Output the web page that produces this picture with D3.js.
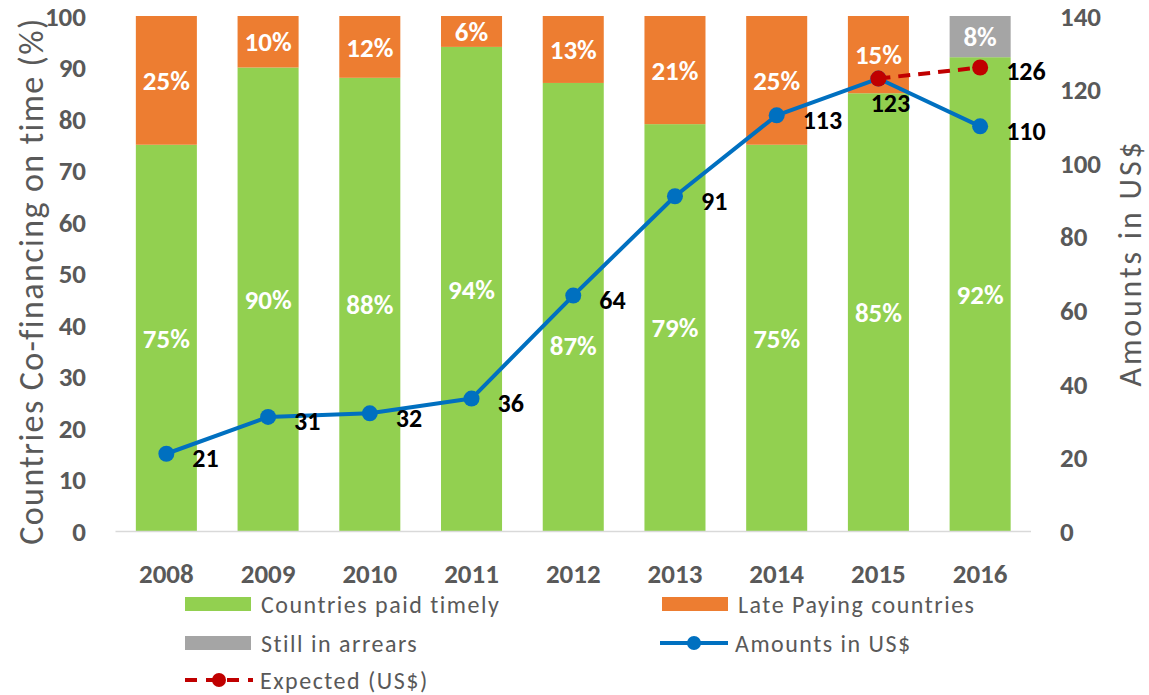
<!DOCTYPE html>
<html lang="en">
<head>
<meta charset="UTF-8" />
<script src="https://d3js.org/d3.v7.min.js"></script>
<title>Co-financing on time</title>
<style>
  body { margin: 0; background: #fff; }
  svg text { font-family: Carlito, Calibri, Lato, sans-serif; }
</style>
</head>
<body>
<svg id="chart" width="1149" height="695"></svg>
<script>
const years = ["2008", "2009", "2010", "2011", "2012", "2013", "2014", "2015", "2016"];
const timely = [75, 90, 88, 94, 87, 79, 75, 85, 92];
const late = [25, 10, 12, 6, 13, 21, 25, 15, 0];
const arrears = [0, 0, 0, 0, 0, 0, 0, 0, 8];
const amounts = [21, 31, 32, 36, 64, 91, 113, 123, 110];
const expectedYears = ["2015", "2016"];
const expected = [123, 126];
const leftTicks = [0, 10, 20, 30, 40, 50, 60, 70, 80, 90, 100];
const rightTicks = [0, 20, 40, 60, 80, 100, 120, 140];

const green = "#92D050", orange = "#ED7D31", grey = "#A5A5A5";
const blue = "#0070C0", red = "#C00000", axisGrey = "#595959";

const svg = d3.select("#chart");
const plotLeft = 115.5, plotRight = 1031, plotTop = 16, plotBottom = 531;

const x = d3.scaleBand().domain(years).range([plotLeft, plotRight]).paddingInner(0.4).paddingOuter(0.2);
const yL = d3.scaleLinear().domain([0, 100]).range([plotBottom, plotTop]);
const yR = d3.scaleLinear().domain([0, 140]).range([plotBottom, plotTop]);

// stacked bars
const rows = years.map((yr, i) => ({ year: yr, timely: timely[i], late: late[i], arrears: arrears[i] }));
const stack = d3.stack().keys(["timely", "late", "arrears"])(rows);
const colors = { timely: green, late: orange, arrears: grey };
// the 2012 label was pushed down off the line in the original
const barLabelNudge = { "timely-2012": 38 };

stack.forEach(layer => {
  const g = svg.append("g");
  const segs = layer.filter(d => d[1] > d[0]);
  g.selectAll("rect").data(segs).enter().append("rect")
    .attr("x", d => x(d.data.year))
    .attr("width", x.bandwidth())
    .attr("y", d => yL(d[1]))
    .attr("height", d => yL(d[0]) - yL(d[1]))
    .attr("fill", colors[layer.key]);
  g.selectAll("text").data(segs).enter().append("text")
    .attr("x", d => x(d.data.year) + x.bandwidth() / 2)
    .attr("y", d => (yL(d[0]) + yL(d[1])) / 2 + (barLabelNudge[layer.key + "-" + d.data.year] || 0))
    .attr("dy", "0.36em")
    .attr("text-anchor", "middle")
    .attr("fill", "#fff")
    .attr("font-weight", "bold")
    .attr("font-size", 27)
    .text(d => (d[1] - d[0]) + "%");
});

// x axis line
svg.append("line").attr("x1", plotLeft).attr("x2", plotRight).attr("y1", plotBottom + 0.5).attr("y2", plotBottom + 0.5)
  .attr("stroke", "#D9D9D9").attr("stroke-width", 1.5);

svg.append("g").selectAll("text").data(years).enter().append("text")
  .attr("x", d => x(d) + x.bandwidth() / 2)
  .attr("y", 573).attr("dy", "0.36em")
  .attr("text-anchor", "middle").attr("font-weight", "bold").attr("font-size", 27)
  .attr("fill", axisGrey).text(d => d);

// left ticks
svg.append("g").selectAll("text").data(leftTicks).enter().append("text")
  .attr("x", 86).attr("y", d => yL(d)).attr("dy", "0.36em")
  .attr("text-anchor", "end").attr("font-weight", "bold").attr("font-size", 27)
  .attr("fill", axisGrey).text(d => d);

// right ticks
svg.append("g").selectAll("text").data(rightTicks).enter().append("text")
  .attr("x", 1060).attr("y", d => yR(d)).attr("dy", "0.36em")
  .attr("text-anchor", "start").attr("font-weight", "bold").attr("font-size", 27)
  .attr("fill", axisGrey).text(d => d);

// axis titles
svg.append("text").attr("transform", "translate(43,281) rotate(-90)")
  .attr("text-anchor", "middle").attr("font-size", 34).attr("letter-spacing", 1.4).attr("fill", axisGrey)
  .text("Countries Co-financing on time (%)");
svg.append("text").attr("transform", "translate(1141,263) rotate(-90)")
  .attr("text-anchor", "middle").attr("font-size", 32).attr("letter-spacing", 2.8).attr("fill", axisGrey)
  .text("Amounts in US$");

// amounts line
const cx = yr => x(yr) + x.bandwidth() / 2;
const line = d3.line().x(d => cx(d[0])).y(d => yR(d[1]));
const amtPts = years.map((yr, i) => [yr, amounts[i]]);
const expPts = expectedYears.map((yr, i) => [yr, expected[i]]);

svg.append("path").datum(amtPts).attr("d", line).attr("fill", "none")
  .attr("stroke", blue).attr("stroke-width", 4).attr("stroke-linejoin", "round");
svg.append("g").selectAll("circle").data(amtPts).enter().append("circle")
  .attr("cx", d => cx(d[0])).attr("cy", d => yR(d[1])).attr("r", 8).attr("fill", blue);

svg.append("path").datum(expPts).attr("d", line).attr("fill", "none")
  .attr("stroke", red).attr("stroke-width", 4).attr("stroke-dasharray", "12,8");
svg.append("g").selectAll("circle").data(expPts).enter().append("circle")
  .attr("cx", d => cx(d[0])).attr("cy", d => yR(d[1])).attr("r", 8).attr("fill", red);

// value labels: right of point, except where it would clash (2015 goes below)
const below = { "2015": true };
svg.append("g").selectAll("text").data(amtPts).enter().append("text")
  .attr("x", d => below[d[0]] ? cx(d[0]) + 12 : cx(d[0]) + 26)
  .attr("y", d => below[d[0]] ? yR(d[1]) + 24 : yR(d[1]) + 4)
  .attr("dy", "0.36em")
  .attr("text-anchor", d => below[d[0]] ? "middle" : "start")
  .attr("font-weight", "bold").attr("font-size", 26).attr("fill", "#000")
  .text(d => d[1]);
svg.append("g").selectAll("text").data(expPts.filter(d => !below[d[0]])).enter().append("text")
  .attr("x", d => cx(d[0]) + 26).attr("y", d => yR(d[1]) + 3).attr("dy", "0.36em")
  .attr("font-weight", "bold").attr("font-size", 26).attr("fill", "#000")
  .text(d => d[1]);

// legend
const legend = [
  { label: "Countries paid timely", type: "rect", color: green, x: 185, y: 604 },
  { label: "Late Paying countries", type: "rect", color: orange, x: 662, y: 604 },
  { label: "Still in arrears", type: "rect", color: grey, x: 185, y: 643 },
  { label: "Amounts in US$", type: "line", color: blue, x: 660, y: 643 },
  { label: "Expected (US$)", type: "dash", color: red, x: 185, y: 680 }
];
const lg = svg.append("g").selectAll("g").data(legend).enter().append("g")
  .attr("transform", d => `translate(${d.x},${d.y})`);
lg.filter(d => d.type === "rect").append("rect")
  .attr("x", 0).attr("y", -7).attr("width", 66).attr("height", 14).attr("fill", d => d.color);
lg.filter(d => d.type !== "rect").append("line")
  .attr("x1", 0).attr("x2", 68).attr("y1", 0).attr("y2", 0)
  .attr("stroke", d => d.color).attr("stroke-width", 4)
  .attr("stroke-dasharray", d => d.type === "dash" ? "12,9" : null);
lg.filter(d => d.type !== "rect").append("circle")
  .attr("cx", 34).attr("cy", 0).attr("r", 7).attr("fill", d => d.color);
lg.append("text")
  .attr("x", d => d.type === "rect" ? 76 : 75).attr("y", 0).attr("dy", "0.36em")
  .attr("font-size", 24).attr("letter-spacing", 1.5).attr("fill", axisGrey).text(d => d.label);
</script>
</body>
</html>
